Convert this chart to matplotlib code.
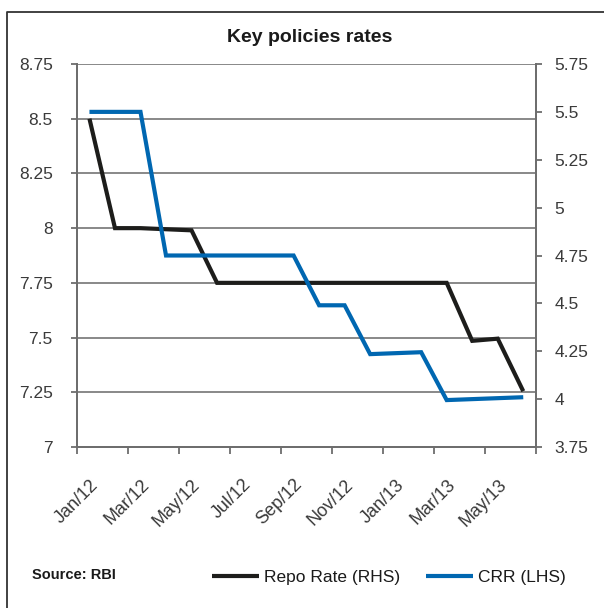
import matplotlib
matplotlib.use("Agg")
import matplotlib.pyplot as plt
from matplotlib.lines import Line2D
import numpy as np

months = ["Jan/12", "Feb/12", "Mar/12", "Apr/12", "May/12", "Jun/12", "Jul/12", "Aug/12",
          "Sep/12", "Oct/12", "Nov/12", "Dec/12", "Jan/13", "Feb/13", "Mar/13", "Apr/13",
          "May/13", "Jun/13"]
tick_labels = ["Jan/12", "Mar/12", "May/12", "Jul/12", "Sep/12", "Nov/12", "Jan/13", "Mar/13", "May/13"]
repo_rate = [8.5, 8.0, 8.0, 7.995, 7.99, 7.75, 7.75, 7.75, 7.75, 7.75, 7.75, 7.75, 7.75, 7.75,
             7.75, 7.485, 7.495, 7.255]
crr = [5.5, 5.5, 5.5, 4.75, 4.75, 4.75, 4.75, 4.75, 4.75, 4.49, 4.49, 4.235, 4.24, 4.245,
       3.995, 4.0, 4.005, 4.01]
left_ticks = [7, 7.25, 7.5, 7.75, 8, 8.25, 8.5, 8.75]
left_labels = ["7", "7.25", "7.5", "7.75", "8", "8.25", "8.5", "8.75"]
right_ticks = [3.75, 4, 4.25, 4.5, 4.75, 5, 5.25, 5.5, 5.75]
right_labels = ["3.75", "4", "4.25", "4.5", "4.75", "5", "5.25", "5.5", "5.75"]

plt.rcParams['font.family'] = ['Liberation Sans', 'DejaVu Sans']

W, H = 604, 608
fig = plt.figure(figsize=(W / 100, H / 100), dpi=100)
ax = fig.add_axes([76.7 / W, 1 - 447 / H, (536 - 76.7) / W, (447 - 64) / H])
ax2 = ax.twinx()

x = np.arange(len(months))
grid_c = "#7f7f7f"
spine_c = "#6d6d6d"
text_c = "#3a3a3a"

l1, = ax.plot(x, repo_rate, color="#1d1d1b", lw=3.0, solid_joinstyle="miter",
              solid_capstyle="butt", zorder=3, label="Repo Rate (RHS)")
l2, = ax2.plot(x, crr, color="#0067b1", lw=3.0, solid_joinstyle="miter",
               solid_capstyle="butt", zorder=3, label="CRR (LHS)")

ax.set_xlim(-0.5, len(months) - 0.5)
ax.set_ylim(7, 8.75)
ax2.set_ylim(3.75, 5.75)

ax.set_yticks(left_ticks)
ax.set_yticklabels(left_labels)
ax2.set_yticks(right_ticks)
ax2.set_yticklabels(right_labels)

for t in left_ticks[1:]:
    ax.axhline(t, color=grid_c, lw=1.3, zorder=1)

# major ticks at category boundaries every 2 months
ax.set_xticks(np.arange(-0.5, len(months), 2))
ax.set_xticklabels([])
ax.set_xticks(np.arange(0, 2 * len(tick_labels), 2), minor=True)
ax.set_xticklabels(tick_labels, minor=True, rotation=45, ha="right", va="top",
                   rotation_mode="anchor")
ax.tick_params(axis="x", which="major", direction="out", length=5, width=1.3, color=spine_c)
ax.tick_params(axis="x", which="minor", length=0, pad=21, labelsize=13, labelcolor=text_c)
ax.tick_params(axis="y", direction="out", length=4.3, width=1.3, color=spine_c,
               pad=13, labelsize=12.5, labelcolor=text_c)
ax2.tick_params(axis="y", direction="out", length=4.3, width=1.3, color=spine_c,
                pad=9, labelsize=12.5, labelcolor=text_c)

for a in (ax, ax2):
    a.spines["top"].set_visible(False)
    for s in ("left", "right", "bottom"):
        a.spines[s].set_color(spine_c)
        a.spines[s].set_linewidth(1.3)

fig.text(309.5 / W, 1 - 37 / H, "Key policies rates", ha="center", va="center",
         fontsize=14, fontweight="bold", family=["Liberation Sans Narrow", "Liberation Sans"],
         color="#1a1a1a")
fig.text(31.5 / W, 1 - 575 / H, "Source: RBI", ha="left", va="center",
         fontsize=10.5, fontweight="bold", family=["Liberation Sans Narrow", "Liberation Sans"],
         color="#1a1a1a")

fig.legend(handles=[l1, l2], loc="center", bbox_to_anchor=(389 / W, 1 - 577 / H), ncol=2,
           frameon=False, fontsize=12.5, handlelength=2.7, handletextpad=0.3,
           columnspacing=1.5, labelcolor="#1a1a1a")

# figure border (top and left)
fig.add_artist(Line2D([7 / W, 7 / W, 1.0], [0.0, 1 - 12 / H, 1 - 12 / H],
                      transform=fig.transFigure, color="#333333", lw=1.3))

fig.savefig("out.png", dpi=100)
